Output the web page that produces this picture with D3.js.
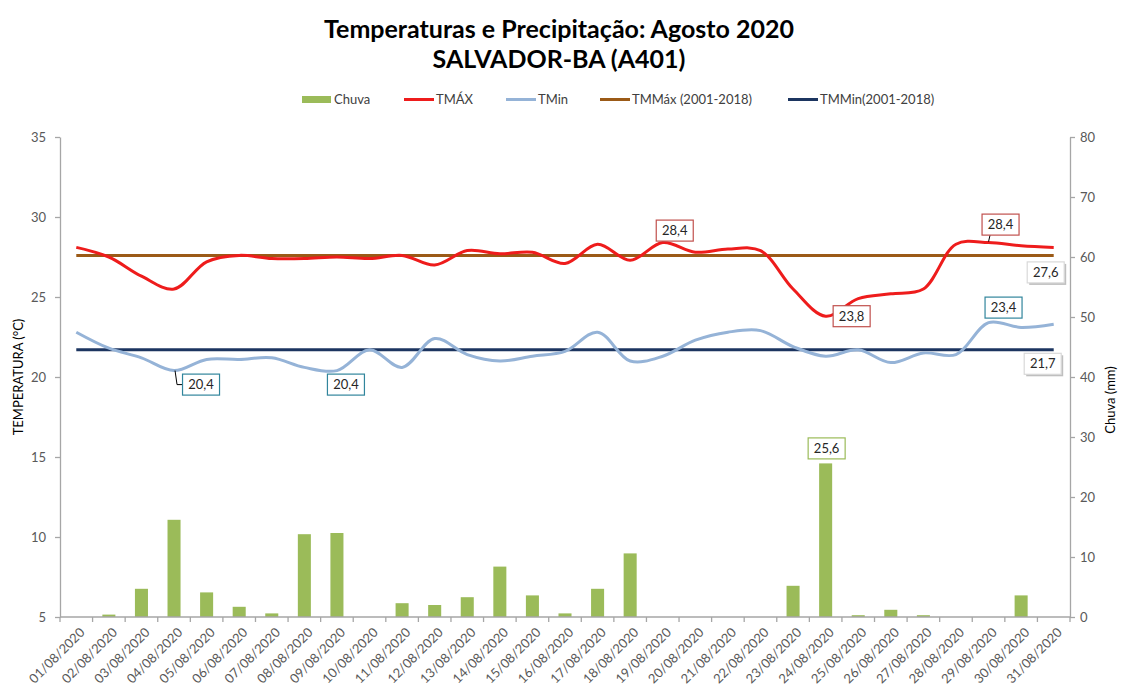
<!DOCTYPE html>
<html>
<head>
<meta charset="utf-8">
<script src="https://cdn.jsdelivr.net/npm/d3@7"></script>
<style>
  body { margin: 0; background: #fff; }
  svg { font-family: Lato, "Open Sans", sans-serif; }
</style>
</head>
<body>
<svg id="chart" width="1121" height="697"></svg>
<script>
// ---------- data ----------
const dates = ["01/08/2020","02/08/2020","03/08/2020","04/08/2020","05/08/2020","06/08/2020","07/08/2020","08/08/2020","09/08/2020","10/08/2020","11/08/2020","12/08/2020","13/08/2020","14/08/2020","15/08/2020","16/08/2020","17/08/2020","18/08/2020","19/08/2020","20/08/2020","21/08/2020","22/08/2020","23/08/2020","24/08/2020","25/08/2020","26/08/2020","27/08/2020","28/08/2020","29/08/2020","30/08/2020","31/08/2020"];
const chuva = [0,0.4,4.7,16.2,4.1,1.7,0.6,13.8,14.0,0,2.3,2.0,3.3,8.4,3.6,0.6,4.7,10.6,0,0,0,0,5.2,25.6,0.3,1.2,0.3,0,0,3.6,0];
const tmax = [28.1,27.5,26.3,25.5,27.2,27.6,27.4,27.4,27.5,27.4,27.6,27.0,27.9,27.7,27.8,27.1,28.3,27.3,28.4,27.8,28.0,27.9,25.5,23.8,24.9,25.2,25.5,28.3,28.4,28.2,28.1];
const tmin = [22.8,21.8,21.2,20.4,21.1,21.1,21.2,20.6,20.4,21.7,20.6,22.4,21.4,21.0,21.3,21.6,22.8,21.0,21.3,22.3,22.8,22.9,21.9,21.3,21.7,20.9,21.5,21.4,23.4,23.1,23.3];
const tmmax = 27.6;   // TMMáx (2001-2018)
const tmmin = 21.7;   // TMMin (2001-2018)
const tempTicks = [5,10,15,20,25,30,35];
const rainTicks = [0,10,20,30,40,50,60,70,80];
const titleLines = ["Temperaturas e Precipitação: Agosto 2020", "SALVADOR-BA (A401)"];
const legendLabels = ["Chuva","TMÁX","TMin","TMMáx (2001-2018)","TMMin(2001-2018)"];

// ---------- layout ----------
const C = { rain:"#9bbb59", tmax:"#ee1c1c", tmin:"#95b3d7", tmmax:"#9b5a17", tmmin:"#1c3560", axis:"#a6a6a6", text:"#595959" };
const L = 60, R = 1070, T = 137, B = 617;
const FS = 13;
const svg = d3.select("#chart");

const x = d3.scaleBand().domain(dates).range([L, R]).paddingInner(0.6).paddingOuter(0.3);
const cx = d => x(d) + x.bandwidth()/2;
const yT = d3.scaleLinear().domain([5,35]).range([B,T]);
const yR = d3.scaleLinear().domain([0,80]).range([B,T]);

// title
svg.selectAll("text.title").data(titleLines).join("text")
  .attr("class","title")
  .attr("x", 559).attr("y", (d,i)=> 38 + i*30)
  .attr("text-anchor","middle")
  .attr("font-size", 25).attr("font-weight","bold").attr("fill","#000")
  .text(d=>d);

// legend
const legX = [302, 404, 506, 600, 788];
const legColors = [C.rain, C.tmax, C.tmin, C.tmmax, C.tmmin];
const lg = svg.append("g");
legendLabels.forEach((lab,i)=>{
  if (i===0) lg.append("rect").attr("x",legX[i]).attr("y",96).attr("width",29).attr("height",7).attr("fill",C.rain);
  else lg.append("line").attr("x1",legX[i]).attr("x2",legX[i]+30).attr("y1",99.5).attr("y2",99.5).attr("stroke",legColors[i]).attr("stroke-width",3);
  lg.append("text").attr("x",legX[i]+32).attr("y",104).attr("font-size",FS).attr("fill","#404040").text(lab);
});

// bars
svg.append("g").selectAll("rect").data(dates).join("rect")
  .attr("x", d=>x(d)).attr("width", x.bandwidth())
  .attr("y", (d,i)=>yR(chuva[i])).attr("height",(d,i)=>B - yR(chuva[i]))
  .attr("fill", C.rain);

// axes
const styleAxis = g => {
  g.select(".domain").attr("stroke", C.axis).attr("stroke-width",1.3);
  g.selectAll(".tick line").attr("stroke", C.axis).attr("stroke-width",1.3);
  g.selectAll(".tick text").attr("fill", C.text).attr("font-size",FS).attr("font-family","Lato, 'Open Sans', sans-serif");
};
svg.append("g").attr("transform",`translate(${L},0)`)
  .call(d3.axisLeft(yT).tickValues(tempTicks).tickSize(5).tickPadding(9).tickSizeOuter(0))
  .call(styleAxis);
svg.append("g").attr("transform",`translate(${R},0)`)
  .call(d3.axisRight(yR).tickValues(rainTicks).tickSize(5).tickPadding(5).tickSizeOuter(0))
  .call(styleAxis);

// bottom axis
const gx = svg.append("g").attr("transform",`translate(0,${B})`);
gx.append("line").attr("x1",L).attr("x2",R).attr("stroke",C.axis).attr("stroke-width",1.3);
gx.selectAll("line.tk").data(dates.concat(["end"])).join("line").attr("class","tk")
  .attr("x1",(d,i)=> L + i*x.step()).attr("x2",(d,i)=> L + i*x.step())
  .attr("y1",0).attr("y2",5).attr("stroke",C.axis).attr("stroke-width",1.3);
gx.selectAll("text").data(dates).join("text")
  .attr("transform", d=>`translate(${cx(d)+6},${13}) rotate(-45)`)
  .attr("text-anchor","end").attr("dy","0.35em")
  .attr("font-size",FS).attr("fill",C.text).text(d=>d);

// axis titles
svg.append("text").attr("transform","translate(23,377) rotate(-90)").attr("text-anchor","middle")
  .attr("font-size",FS).attr("fill","#000").text("TEMPERATURA (°C)");
svg.append("text").attr("transform","translate(1115,400) rotate(-90)").attr("text-anchor","middle")
  .attr("font-size",FS).attr("fill","#000").text("Chuva (mm)");

// reference lines
[[tmmax,C.tmmax],[tmmin,C.tmmin]].forEach(([v,c])=>{
  svg.append("line").attr("x1",cx(dates[0])).attr("x2",cx(dates[dates.length-1]))
    .attr("y1",yT(v)).attr("y2",yT(v)).attr("stroke",c).attr("stroke-width",3);
});

// temperature lines
const line = d3.line().x((d,i)=>cx(dates[i])).y(d=>yT(d)).curve(d3.curveCatmullRom.alpha(0.5));
svg.append("path").datum(tmin).attr("d",line).attr("fill","none").attr("stroke",C.tmin).attr("stroke-width",3);
svg.append("path").datum(tmax).attr("d",line).attr("fill","none").attr("stroke",C.tmax).attr("stroke-width",3);

// data labels
const fmt = v => d3.format(".1f")(v).replace(".", ",");
const labels = [
  {i:18, v:tmax[18], y:yT, dx:12, dy:-12, c:"#c0504d"},
  {i:28, v:tmax[28], y:yT, dx:12, dy:-18, c:"#c0504d", leader:true},
  {i:23, v:tmax[23], y:yT, dx:26, dy:0,  c:"#c0504d"},
  {i:3,  v:tmin[3],  y:yT, dx:27, dy:14, c:"#31859c", elbow:true},
  {i:8,  v:tmin[8],  y:yT, dx:9,  dy:14, c:"#31859c"},
  {i:28, v:tmin[28], y:yT, dx:15, dy:-15, c:"#31859c"},
  {i:23, v:chuva[23], y:yR, dx:1, dy:-15, c:"#9bbb59"},
  {i:30, v:tmmax, y:yT, dx:-8, dy:17, c:"#d9d9d9", shadow:true},
  {i:30, v:tmmin, y:yT, dx:-11, dy:14, c:"#d9d9d9", shadow:true}
];
const bw = 37, bh = 21;
labels.forEach(l=>{
  const px = cx(dates[l.i]), py = l.y(l.v);
  const bx = px + l.dx, by = py + l.dy;
  const g = svg.append("g");
  if (l.elbow) {
    g.append("path").attr("d",`M${px+1},${py} L${px+3},${by} L${bx-bw/2},${by}`).attr("fill","none").attr("stroke","#000").attr("stroke-width",1);
  }
  if (l.leader) {
    g.append("line").attr("x1",px).attr("y1",py-1).attr("x2",bx-bw/2+8).attr("y2",by+bh/2).attr("stroke","#000").attr("stroke-width",1);
  }
  if (l.shadow) {
    g.append("rect").attr("x",bx-bw/2+2).attr("y",by-bh/2+2).attr("width",bw).attr("height",bh).attr("fill","#bfbfbf");
  }
  g.append("rect").attr("x",bx-bw/2).attr("y",by-bh/2).attr("width",bw).attr("height",bh)
    .attr("fill","#fff").attr("stroke",l.c).attr("stroke-width",1.2);
  g.append("text").attr("x",bx).attr("y",by).attr("dy","0.35em").attr("text-anchor","middle")
    .attr("font-size",FS).attr("fill","#262626").text(fmt(l.v));
});
</script>
</body>
</html>
